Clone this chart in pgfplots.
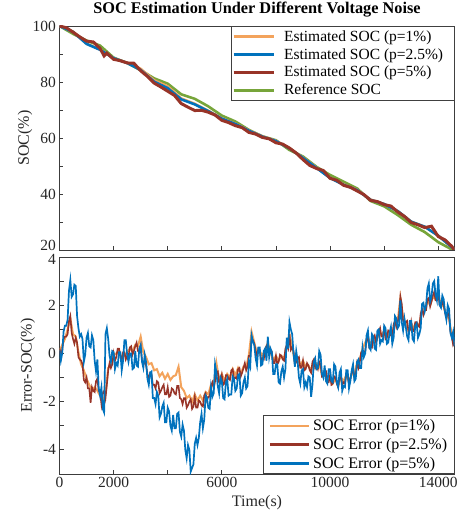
\documentclass[border=0pt]{standalone}
\usepackage{fontspec}
\setmainfont{Liberation Serif}
\usepackage{pgfplots}
\pgfplotsset{compat=1.18}

\definecolor{cOrange}{RGB}{243,163,92}
\definecolor{cBlue}{RGB}{0,114,189}
\definecolor{cRed}{RGB}{152,52,40}
\definecolor{cGreen}{RGB}{119,165,58}
\definecolor{axgray}{RGB}{60,60,60}

\pgfplotsset{
  socbase/.style={
    scale only axis, width=395pt, xmin=0, xmax=14600,
    axis line style={axgray, line width=0.8pt},
    tick style={axgray, line width=0.8pt},
    major tick length=4pt, minor tick length=4pt,
    xtick pos=bottom, ytick pos=left, tick align=inside,
    scaled x ticks=false,
    xtick={0,2000,6000,10000,14000}, minor xtick={4000,8000,12000},
    ticklabel style={font=\fontsize{15.5}{16}\selectfont, text=black!85},
    /pgf/number format/assume math mode=true,
    /pgf/number format/set thousands separator={},
    label style={font=\fontsize{16}{17}\selectfont, text=black!85},
    legend cell align=left,
  },
}

\begin{document}
\begin{tikzpicture}
\useasboundingbox (-59.5pt,-43pt) rectangle (402.5pt,474pt);

% upper panel: SOC
\begin{axis}[socbase,
  at={(0pt,224pt)}, height=224pt,
  ymin=20, ymax=100,
  ytick={40,60,80,100}, minor ytick={30,50,70,90},
  extra y ticks={20}, extra y tick style={yticklabel style={yshift=5pt}},
  xticklabels={},
  ylabel={SOC(\%)},
  ylabel style={at={(axis description cs:-0.087,0.5)}, anchor=center},
  title={SOC Estimation Under Different Voltage Noise},
  title style={at={(axis description cs:0.5,1)}, anchor=base, yshift=6.5pt,
    font=\fontsize{16.3}{17}\selectfont\bfseries},
  legend style={at={(1,1)}, anchor=north east, draw=black!75, line width=0.8pt,
    fill=white, font=\fontsize{15.5}{15.5}\selectfont, inner xsep=1pt, inner ysep=2pt,
    row sep=1.6pt, /tikz/every odd column/.append style={column sep=7pt}},
  legend image code/.code={\draw[#1, line width=2.8pt] (0pt,0pt) -- (40pt,0pt);},
]
\addplot[cGreen, line width=2.6pt, forget plot] coordinates {
(0,100)(500,97.2)(1000,94.8)(1500,93.0)(2000,88.7)(2500,86.8)(3000,84.2)(3500,81.3)(4000,79.4)(4500,75.6)
(5000,74.0)(5500,71.3)(6000,68.0)(6500,65.9)(7000,62.9)(7500,60.6)(8000,59.2)(8500,55.7)(9000,53.4)(9500,49.7)
(10000,46.8)(10500,44.4)(11000,42.0)(11500,37.5)(12000,35.6)(12500,32.5)(13000,29.0)(13500,26.4)(14000,22.8)(14500,20.2)(14600,19.8)};
\addplot[cOrange, line width=2.6pt] coordinates {
(0,100)(500,98.0)(1000,93.7)(1500,91.6)(2000,88.5)(2500,86.9)(3000,84.7)(3500,80.6)(4000,78.4)(4500,74.1)
(5000,72.2)(5500,69.7)(6000,67.0)(6500,65.1)(7000,62.7)(7500,60.6)(8000,59.0)(8500,56.4)(9000,53.0)(9500,49.4)
(10000,45.8)(10500,43.4)(11000,41.5)(11500,38.0)(12000,36.4)(12500,33.9)(13000,30.1)(13500,28.3)(14000,25.1)(14500,21.0)(14600,20.1)};
\addlegendentry{Estimated SOC (p=1\%)}
\addplot[cBlue, line width=2.6pt] coordinates {
(0,100)(500,97.9)(1000,93.6)(1500,91.5)(2000,88.5)(2500,86.8)(3000,84.3)(3500,80.1)(4000,77.8)(4500,73.8)
(5000,72.0)(5500,69.6)(6000,66.9)(6500,65.0)(7000,62.6)(7500,60.5)(8000,58.9)(8500,56.3)(9000,52.9)(9500,49.3)
(10000,45.7)(10500,43.3)(11000,41.4)(11500,37.9)(12000,36.4)(12500,33.9)(13000,30.1)(13500,28.3)(14000,25.1)(14500,21.0)(14600,20.1)};
\addlegendentry{Estimated SOC (p=2.5\%)\rule{8pt}{0pt}}
\addplot[cRed, line width=3pt] coordinates {
(0,100)(250,99.4)(500,97.8)(750,96.1)(1000,94.6)(1250,94.3)(1500,92.0)(1650,89.3)(1750,90.3)(2000,88.1)
(2250,87.6)(2500,86.8)(2750,86.7)(3000,84.0)(3250,82.0)(3500,79.6)(3750,78.2)(4000,76.7)(4250,75.2)(4500,72.3)
(4750,71.0)(5000,69.8)(5250,69.9)(5500,69.2)(5750,68.2)(6000,66.3)(6250,65.5)(6500,64.4)(6750,63.7)(7000,62.0)
(7250,61.4)(7500,60.2)(7750,59.7)(8000,58.3)(8250,57.8)(8500,56.4)(8750,54.6)(9000,52.3)(9250,50.2)(9500,49.1)
(9750,48.4)(10000,45.6)(10250,44.9)(10500,43.1)(10750,42.4)(11000,41.1)(11250,39.8)(11500,37.7)(11750,37.3)(12000,36.2)
(12250,35.7)(12500,33.6)(12750,32.0)(13000,29.8)(13250,29.0)(13500,28.0)(13750,28.5)(14000,24.8)(14250,23.6)(14500,21.3)(14600,19.9)};
\addlegendentry{Estimated SOC (p=5\%)}
\addlegendimage{cGreen, line width=2.6pt}
\addlegendentry{Reference SOC}
\end{axis}

% lower panel: error
\begin{axis}[socbase,
  at={(0pt,0pt)}, height=217pt,
  ymin=-5, ymax=4,
  ytick={-4,-2,0,2}, minor ytick={-5,-3,-1,1,3},
  extra y ticks={4}, extra y tick style={yticklabel style={yshift=-2pt}},
  xlabel={Time(s)},
  xlabel style={at={(axis description cs:0.5,0)}, anchor=center, yshift=-29pt},
  ylabel={Error-SOC(\%)},
  ylabel style={at={(axis description cs:-0.080,0.5)}, anchor=center},
  legend style={at={(1,0)}, anchor=south east, draw=black!75, line width=0.8pt,
    fill=white, font=\fontsize{16}{16}\selectfont, inner xsep=5pt, inner ysep=2pt,
    row sep=2pt, /tikz/every odd column/.append style={column sep=1pt}},
  legend image code/.code={\draw[#1, line width=2.8pt] (0pt,0pt) -- (39pt,0pt);},
]
\addplot[cOrange, line width=2pt] coordinates {
(0,0.10)(100,0.35)(200,0.60)(300,1.00)(400,1.45)(500,0.80)(600,0.70)(700,0.05)(800,-0.45)(900,-0.70)
(1000,-1.05)(1100,-1.30)(1200,-1.55)(1300,-1.40)(1400,-1.55)(1500,-1.75)(1600,-1.95)(1700,-1.70)(1800,-0.60)(1900,-0.45)
(2000,-0.05)(2100,0.00)(2200,0.10)(2300,-0.20)(2400,-0.10)(2500,0.05)(2600,0.20)(2700,0.10)(2800,0.35)(2900,0.30)
(3000,0.70)(3100,0.05)(3200,-0.15)(3300,-0.45)(3400,-0.40)(3500,-0.70)(3600,-0.65)(3700,-0.95)(3800,-0.80)(3900,-1.05)
(4000,-0.85)(4100,-1.10)(4200,-0.95)(4300,-0.90)(4400,-0.55)(4500,-1.40)(4600,-1.55)(4700,-1.85)(4800,-1.75)(4900,-2.00)
(5000,-1.70)(5100,-1.95)(5200,-1.75)(5300,-1.95)(5400,-1.60)(5500,-1.70)(5600,-1.30)(5700,-1.35)(5800,-0.40)(5900,-1.10)
(6000,-0.85)(6100,-1.15)(6200,-0.85)(6300,-1.00)(6400,-0.65)(6500,-0.90)(6600,-0.60)(6700,-0.85)(6800,-0.55)(6900,-0.60)
(7000,-0.05)(7100,0.90)(7200,0.45)(7300,0.00)(7400,0.10)(7500,-0.10)(7600,0.15)(7700,0.45)(7800,0.05)(7900,-0.30)
(8000,-0.10)(8100,-0.30)(8200,-0.10)(8300,-0.20)(8400,0.30)(8500,0.80)(8600,0.25)(8700,-0.35)(8800,-0.20)(8900,-0.50)
(9000,-0.30)(9100,-0.55)(9200,-0.50)(9300,-0.70)(9400,-0.30)(9500,-0.45)(9600,-0.40)(9700,-0.90)(9800,-0.85)(9900,-1.15)
(10000,-1.00)(10100,-1.25)(10200,-1.05)(10300,-1.35)(10400,-1.00)(10500,-1.15)(10600,-0.90)(10700,-1.20)(10800,-0.85)(10900,-0.90)
(11000,-0.35)(11100,-0.25)(11200,0.20)(11300,0.45)(11400,0.70)(11500,0.35)(11600,0.60)(11700,0.50)(11800,0.85)(11900,0.75)
(12000,0.95)(12100,0.70)(12200,0.85)(12300,0.75)(12400,1.30)(12500,1.35)(12600,2.30)(12700,1.45)(12800,1.25)(12900,0.95)
(13000,1.25)(13100,1.05)(13200,1.25)(13300,1.15)(13400,1.80)(13500,1.85)(13600,2.20)(13700,2.00)(13800,2.35)(13900,2.25)
(14000,2.45)(14100,2.00)(14200,1.95)(14300,1.55)(14400,1.45)(14500,0.75)(14600,0.35)};
\addlegendentry{SOC Error (p=1\%)}
\addplot[cRed, line width=1.6pt] coordinates {
(0,0.20)(50,-0.05)(100,0.15)(150,0.60)(200,0.70)(250,0.70)(300,0.80)(350,1.35)(400,1.55)(450,0.85)(500,0.60)(550,0.40)(600,0.65)(650,0.45)(700,-0.15)(750,-0.25)(800,-0.30)(850,-0.45)(900,-1.10)(950,-1.20)
(1000,-1.00)(1050,-1.45)(1100,-1.45)(1150,-2.05)(1200,-1.40)(1250,-1.55)(1300,-1.60)(1350,-1.15)(1400,-1.05)(1450,-1.55)(1500,-1.60)(1550,-2.10)(1600,-1.65)(1650,-1.55)(1700,-1.85)(1750,-1.30)(1800,-0.70)(1850,-0.40)(1900,-0.60)(1950,-0.45)
(2000,0.00)(2050,-0.30)(2100,-0.15)(2150,0.20)(2200,0.20)(2250,-0.10)(2300,-0.30)(2350,0.05)(2400,0.05)(2450,-0.25)(2500,-0.10)(2550,-0.15)(2600,0.25)(2650,0.30)(2700,-0.05)(2750,0.10)(2800,0.30)(2850,0.45)(2900,0.10)(2950,0.05)
(3000,0.30)(3050,-0.30)(3100,-0.45)(3150,-0.30)(3200,-0.50)(3250,-0.85)(3300,-1.10)(3350,-0.80)(3400,-0.85)(3450,-1.30)(3500,-1.30)(3550,-1.45)(3600,-1.15)(3650,-1.20)(3700,-1.65)(3750,-1.55)(3800,-1.40)(3850,-1.30)(3900,-1.70)(3950,-1.70)
(4000,-1.40)(4050,-1.80)(4100,-1.75)(4150,-1.45)(4200,-1.50)(4250,-1.65)(4300,-1.70)(4350,-1.35)(4400,-1.35)(4450,-1.85)(4500,-1.90)(4550,-2.10)(4600,-1.85)(4650,-1.85)(4700,-2.25)(4750,-2.15)(4800,-2.00)(4850,-1.90)(4900,-2.30)(4950,-2.20)
(5000,-1.80)(5050,-2.25)(5100,-2.25)(5150,-1.95)(5200,-2.00)(5250,-2.15)(5300,-2.20)(5350,-1.75)(5400,-1.65)(5450,-1.95)(5500,-1.80)(5550,-1.80)(5600,-1.35)(5650,-1.20)(5700,-1.45)(5750,-1.15)(5800,-0.80)(5850,-0.75)(5900,-1.20)(5950,-1.20)
(6000,-0.90)(6050,-1.30)(6100,-1.25)(6150,-0.90)(6200,-0.90)(6250,-1.05)(6300,-1.10)(6350,-0.70)(6400,-0.65)(6450,-1.05)(6500,-1.00)(6550,-1.05)(6600,-0.65)(6650,-0.60)(6700,-0.95)(6750,-0.80)(6800,-0.60)(6850,-0.40)(6900,-0.70)(6950,-0.55)
(7000,-0.10)(7050,-0.10)(7100,0.60)(7150,0.55)(7200,0.40)(7250,0.10)(7300,-0.10)(7350,0.20)(7400,0.15)(7450,-0.25)(7500,-0.20)(7550,-0.25)(7600,0.15)(7650,0.30)(7700,0.40)(7750,0.00)(7800,0.00)(7850,0.05)(7900,-0.40)(7950,-0.40)
(8000,-0.10)(8050,-0.45)(8100,-0.35)(8150,-0.05)(8200,-0.10)(8250,-0.25)(8300,-0.30)(8350,0.20)(8400,0.35)(8450,0.20)(8500,0.80)(8550,0.15)(8600,0.25)(8650,0.10)(8700,-0.45)(8750,-0.35)(8800,-0.20)(8850,-0.15)(8900,-0.60)(8950,-0.60)
(9000,-0.30)(9050,-0.70)(9100,-0.65)(9150,-0.40)(9200,-0.50)(9250,-0.70)(9300,-0.80)(9350,-0.35)(9400,-0.25)(9450,-0.60)(9500,-0.50)(9550,-0.65)(9600,-0.35)(9650,-0.45)(9700,-0.95)(9750,-0.90)(9800,-0.80)(9850,-0.75)(9900,-1.20)(9950,-1.20)
(10000,-0.90)(10050,-1.30)(10100,-1.25)(10150,-0.95)(10200,-1.00)(10250,-1.25)(10300,-1.40)(10350,-1.00)(10400,-0.95)(10450,-1.30)(10500,-1.20)(10550,-1.25)(10600,-0.85)(10650,-0.85)(10700,-1.25)(10750,-1.05)(10800,-0.80)(10850,-0.65)(10900,-1.00)(10950,-0.85)
(11000,-0.40)(11050,-0.60)(11100,-0.35)(11150,0.05)(11200,0.10)(11250,0.05)(11300,0.10)(11350,0.55)(11400,0.65)(11450,0.25)(11500,0.30)(11550,0.25)(11600,0.65)(11650,0.75)(11700,0.45)(11750,0.65)(11800,0.90)(11850,1.05)(11900,0.70)(11950,0.70)
(12000,1.00)(12050,0.60)(12100,0.65)(12150,0.95)(12200,0.90)(12250,0.75)(12300,0.70)(12350,1.20)(12400,1.35)(12450,1.10)(12500,1.30)(12550,1.60)(12600,2.35)(12650,2.05)(12700,1.35)(12750,1.30)(12800,1.30)(12850,1.35)(12900,0.90)(12950,0.95)
(13000,1.30)(13050,0.90)(13100,0.95)(13150,1.30)(13200,1.30)(13250,1.15)(13300,1.10)(13350,1.65)(13400,1.85)(13450,1.60)(13500,1.80)(13550,1.80)(13600,2.25)(13650,2.30)(13700,1.95)(13750,2.15)(13800,2.40)(13850,2.55)(13900,2.20)(13950,2.20)
(14000,2.50)(14050,2.00)(14100,1.95)(14150,2.15)(14200,2.00)(14250,1.70)(14300,1.50)(14350,1.70)(14400,1.55)(14450,0.90)(14500,0.70)(14550,0.35)(14600,0.45)};
\addlegendentry{SOC Error (p=2.5\%)}
\addplot[cBlue, line width=1.7pt] coordinates {
(0,0.15)(50,-0.30)(100,0.00)(150,0.90)(200,1.15)(250,1.15)(300,1.40)(350,2.60)(400,3.05)(450,2.35)(500,2.45)(550,2.85)(600,2.80)(650,1.55)(700,1.05)(750,0.70)(800,0.80)(850,0.60)(900,-0.35)(950,-0.05)
(1000,0.65)(1050,0.85)(1100,0.30)(1150,0.25)(1200,0.75)(1250,0.55)(1300,-0.30)(1350,-0.75)(1400,-0.25)(1450,-1.45)(1500,-1.75)(1550,-1.40)(1600,-2.30)(1650,-2.45)(1700,0.80)(1750,1.05)(1800,0.60)(1850,-0.10)(1900,-0.35)(1950,0.10)
(2000,0.05)(2050,-0.65)(2100,-0.40)(2150,-0.50)(2200,0.05)(2250,0.05)(2300,-0.70)(2350,-0.30)(2400,0.55)(2450,0.55)(2500,-0.05)(2550,-0.35)(2600,0.00)(2650,0.00)(2700,-0.65)(2750,-0.60)(2800,0.10)(2850,-0.50)(2900,-0.55)(2950,0.20)
(3000,0.35)(3050,-0.35)(3100,-0.60)(3150,-0.05)(3200,-0.35)(3250,-1.05)(3300,-1.30)(3350,-0.80)(3400,-0.75)(3450,-1.85)(3500,-1.85)(3550,-2.10)(3600,-1.60)(3650,-1.75)(3700,-2.65)(3750,-2.50)(3800,-2.20)(3850,-2.05)(3900,-2.85)(3950,-2.85)
(4000,-2.25)(4050,-2.40)(4100,-3.00)(4150,-3.20)(4200,-2.55)(4250,-3.10)(4300,-3.10)(4350,-2.50)(4400,-2.45)(4450,-3.25)(4500,-3.45)(4550,-2.95)(4600,-3.20)(4650,-4.00)(4700,-4.35)(4750,-3.80)(4800,-4.00)(4850,-4.90)(4900,-4.75)(4950,-4.60)
(5000,-3.75)(5050,-3.50)(5100,-3.80)(5150,-3.50)(5200,-2.85)(5250,-2.50)(5300,-3.10)(5350,-2.75)(5400,-1.75)(5450,-1.85)(5500,-2.25)(5550,-2.30)(5600,-1.40)(5650,-1.80)(5700,-1.65)(5750,-0.45)(5800,-0.80)(5850,-1.35)(5900,-1.65)(5950,-1.00)
(6000,-1.15)(6050,-1.85)(6100,-1.90)(6150,-1.20)(6200,-1.05)(6250,-1.75)(6300,-1.70)(6350,-1.70)(6400,-0.95)(6450,-1.05)(6500,-1.55)(6550,-1.45)(6600,-0.90)(6650,-0.85)(6700,-1.75)(6750,-1.65)(6800,-1.20)(6850,-1.00)(6900,-1.45)(6950,-1.35)
(7000,-0.35)(7050,-0.55)(7100,0.75)(7150,0.50)(7200,0.35)(7250,-0.20)(7300,-0.50)(7350,0.25)(7400,0.25)(7450,-0.50)(7500,-0.45)(7550,0.10)(7600,0.20)(7650,-0.30)(7700,0.70)(7750,-0.15)(7800,0.20)(7850,0.05)(7900,-0.85)(7950,-0.85)
(8000,-0.45)(8050,-0.45)(8100,-1.20)(8150,-1.25)(8200,-0.75)(8250,-0.55)(8300,-1.00)(8350,-0.65)(8400,0.65)(8450,0.20)(8500,1.30)(8550,1.00)(8600,0.80)(8650,0.00)(8700,-0.55)(8750,0.10)(8800,-0.30)(8850,-1.00)(8900,-1.25)(8950,-0.70)
(9000,-0.65)(9050,-1.40)(9100,-1.20)(9150,-1.40)(9200,-0.95)(9250,-1.00)(9300,-1.80)(9350,-1.30)(9400,-0.35)(9450,-0.20)(9500,-0.65)(9550,-0.60)(9600,0.10)(9650,-0.05)(9700,-0.85)(9750,-1.00)(9800,-0.50)(9850,-1.15)(9900,-1.25)(9950,-0.65)
(10000,-0.65)(10050,-1.15)(10100,-1.20)(10150,-0.45)(10200,-0.55)(10250,-1.20)(10300,-1.40)(10350,-0.80)(10400,-0.65)(10450,-1.55)(10500,-1.35)(10550,-1.40)(10600,-0.70)(10650,-0.70)(10700,-1.45)(10750,-1.15)(10800,-0.70)(10850,-0.45)(10900,-1.15)(10950,-1.05)
(11000,-0.35)(11050,-0.25)(11100,-0.60)(11150,-0.60)(11200,0.25)(11250,-0.15)(11300,0.00)(11350,0.75)(11400,0.95)(11450,0.25)(11500,0.15)(11550,0.80)(11600,0.70)(11650,0.20)(11700,0.15)(11750,0.95)(11800,1.00)(11850,0.40)(11900,0.55)(11950,0.50)
(12000,1.15)(12050,1.05)(12100,0.40)(12150,0.45)(12200,0.85)(12250,1.10)(12300,0.40)(12350,0.65)(12400,1.55)(12450,1.45)(12500,1.05)(12550,1.15)(12600,2.20)(12650,1.30)(12700,0.95)(12750,1.45)(12800,1.10)(12850,0.70)(12900,0.55)(12950,1.35)
(13000,1.35)(13050,0.60)(13100,0.50)(13150,1.15)(13200,1.25)(13250,0.65)(13300,0.80)(13350,1.05)(13400,2.05)(13450,2.10)(13500,1.75)(13550,2.00)(13600,2.70)(13650,2.90)(13700,2.15)(13750,2.35)(13800,2.90)(13850,3.00)(13900,2.45)(13950,2.20)
(14000,3.20)(14050,2.00)(14100,1.90)(14150,2.40)(14200,2.25)(14250,1.70)(14300,1.40)(14350,2.00)(14400,1.85)(14450,0.85)(14500,0.65)(14550,0.90)(14600,0.30)};
\addlegendentry{SOC Error (p=5\%)}
\end{axis}
\end{tikzpicture}
\end{document}
